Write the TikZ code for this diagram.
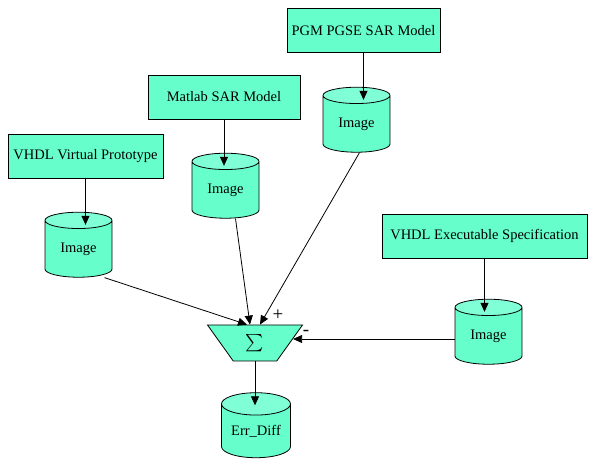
\documentclass[tikz,border=0pt]{standalone}
\usepackage{amsmath}
\usepackage{fontspec}
\setmainfont{Liberation Serif}
\usetikzlibrary{shapes.geometric,arrows.meta,calc}
\definecolor{aqua}{HTML}{66FFCC}
\definecolor{aquatop}{HTML}{80FFD6}
\begin{document}
\begin{tikzpicture}[x=1pt,y=-1pt,line width=0.8pt,
	font=\fontsize{14.5}{16}\selectfont,
	model/.style={draw,fill=aqua,inner sep=0pt,minimum height=44pt},
	store/.style={cylinder,shape border rotate=90,aspect=0.45,draw,cylinder uses custom fill,cylinder body fill=aqua,cylinder end fill=aquatop,minimum width=67pt,minimum height=65pt,inner sep=0pt},
	sign/.style={font=\fontsize{19}{19}\selectfont,inner sep=0pt},
	arr/.style={-{Triangle[length=9pt,width=8pt]}}]
\useasboundingbox (0,0) rectangle (595,473);
\node[model,minimum width=155pt] (proto) at (85.5,156.5) {VHDL Virtual Prototype};
\node[model,minimum width=152pt] (matlab) at (224,97) {Matlab SAR Model};
\node[model,minimum width=153pt] (pgm) at (363.5,30.5) {PGM PGSE SAR Model};
\node[model,minimum width=205pt] (spec) at (484.5,236) {VHDL Executable Specification};
\node[store] (imgproto) at (78.5,249) {Image};
\node[store] (imgmatlab) at (225.5,190) {Image};
\node[store] (imgpgm) at (356.5,124) {Image};
\node[store] (imgspec) at (488.5,336) {Image};
\node[store,minimum width=69pt] (errdiff) at (256,431) {Err\_Diff};
\node[trapezium,trapezium angle=58,shape border rotate=180,trapezium stretches=true,draw,fill=aqua,minimum width=95pt,minimum height=36pt,inner sep=0pt,font=\fontsize{17}{17}\selectfont] (sum) at (255,343) {$\sum$};
\node[sign] (plus) at (278,315) {+};
\node[sign] (minus) at (306,333) {-};
\draw[arr] (proto.south) -- ($(proto.south |- imgproto.north)+(0,13)$);
\draw[arr] (matlab.south) -- ($(matlab.south |- imgmatlab.north)+(0,13)$);
\draw[arr] (pgm.south) -- ($(pgm.south |- imgpgm.north)+(0,13)$);
\draw[arr] (spec.south) -- ($(spec.south |- imgspec.north)+(0,13)$);
\draw[arr] ($(imgproto.south)+(26,0)$) -- ($(sum.north)+(-8,0)$);
\draw[arr] ($(imgmatlab.south)+(10,0)$) -- ($(sum.north)+(-5,0)$);
\draw[arr] ($(imgpgm.south)+(3,0)$) -- ($(sum.north)+(5,0)$);
\draw[arr] ($(imgspec.west)+(0,3)$) -- ($(imgspec.west -| sum.east)+(3,3)$);
\draw[arr] (sum.south) -- ($(sum.south |- errdiff.north)+(0,13)$);
\end{tikzpicture}
\end{document}
